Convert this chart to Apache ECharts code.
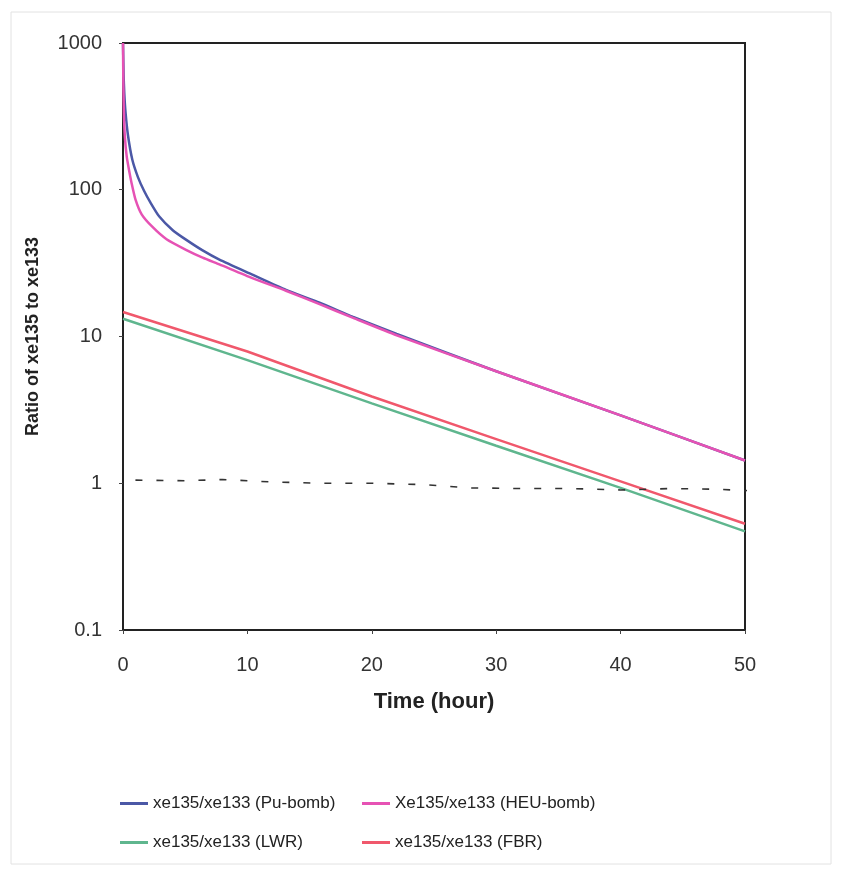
<!DOCTYPE html>
<html>
<head>
<meta charset="utf-8">
<script src="https://cdn.jsdelivr.net/npm/echarts@6/dist/echarts.min.js"></script>
<style>
html,body{margin:0;padding:0;background:#fff;}
#c{width:846px;height:870px;}
</style>
</head>
<body>
<div id="c"></div>
<script>
// Time (hour) and ratio values
var puBomb = [[0,1000],[0.05,600],[0.1,460],[0.2,340],[0.4,235],[0.75,160],[1.2,122],[1.7,98],[2.2,82],[2.9,66],[4,53],[5.06,45.7],[6.4,38.6],[7.75,33.4],[10.4,26.4],[13.1,20.8],[15.8,17.0],[18.5,13.6],[22,10.4],[30,5.8],[40,2.9],[50,1.43]];
var heuBomb = [[0,1000],[0.03,500],[0.07,330],[0.15,230],[0.3,168],[0.48,137],[0.7,110],[1.0,86],[1.5,68],[2.35,56],[3.5,46],[5.06,39],[6.4,34.5],[7.75,31],[10.4,25],[13.1,20.5],[15.8,16.6],[18.5,13.4],[22,10.2],[30,5.8],[40,2.9],[50,1.43]];
var lwr = [[0,13.2],[10,6.9],[20,3.5],[30,1.8],[40,0.93],[50,0.47]];
var fbr = [[0,14.7],[10,7.9],[20,3.9],[30,2.0],[40,1.03],[50,0.53]];
var handLine = [[1,1.05],[5,1.04],[8,1.06],[12,1.02],[16,1.0],[20,1.0],[24,0.98],[28,0.93],[32,0.92],[36,0.92],[40,0.9],[44,0.92],[48,0.91],[50,0.89],[52,0.93]];
var names = ['xe135/xe133 (Pu-bomb)','Xe135/xe133 (HEU-bomb)','xe135/xe133 (LWR)','xe135/xe133 (FBR)'];
var yTicks = [0.1,1,10,100,1000];

var chart = echarts.init(document.getElementById('c'));
var font = 'Liberation Sans, Arial, sans-serif';
function lineSeries(name, data, color, z, smooth){
  return {name:name,type:'line',data:data,showSymbol:false,smooth:smooth,z:z,
    lineStyle:{color:color,width:2.5},itemStyle:{color:color}};
}
chart.setOption({
  animation:false,
  backgroundColor:'#fff',
  textStyle:{fontFamily:font},
  graphic:[{type:'rect',shape:{x:11,y:12,width:820,height:852},style:{fill:'none',stroke:'#e2e2e2',lineWidth:1},silent:true}],
  grid:{left:123,right:101,top:43,bottom:240,show:true,borderColor:'#222',borderWidth:2,backgroundColor:'transparent'},
  legend:[
    {data:[names[0],names[2]],orient:'vertical',left:115,top:790,itemWidth:28,itemHeight:3,itemGap:22,icon:'rect',
     textStyle:{fontSize:17,color:'#222',fontFamily:font}},
    {data:[names[1],names[3]],orient:'vertical',left:357,top:790,itemWidth:28,itemHeight:3,itemGap:22,icon:'rect',
     textStyle:{fontSize:17,color:'#222',fontFamily:font}}
  ],
  xAxis:{type:'value',min:0,max:50,interval:10,
    name:'Time (hour)',nameLocation:'middle',nameGap:61,
    nameTextStyle:{fontSize:22,fontWeight:'bold',color:'#222'},
    axisLine:{show:true,lineStyle:{color:'#222',width:2}},
    axisTick:{show:true,length:4,lineStyle:{color:'#444'}},
    axisLabel:{fontSize:20,color:'#333',margin:25},
    splitLine:{show:false}},
  yAxis:{type:'log',logBase:10,min:0.1,max:1000,
    name:'Ratio of xe135 to xe133',nameLocation:'middle',nameGap:81,
    nameTextStyle:{fontSize:18,fontWeight:'bold',color:'#222'},
    axisLine:{show:true,lineStyle:{color:'#222',width:2}},
    axisTick:{show:true,length:4,lineStyle:{color:'#444'}},
    axisLabel:{fontSize:20,color:'#333',margin:21,formatter:function(v){
      for(var i=0;i<yTicks.length;i++){ if(Math.abs(v-yTicks[i])<yTicks[i]*1e-6) return String(yTicks[i]); }
      return String(v);}},
    splitLine:{show:false},minorTick:{show:false}},
  series:[
    lineSeries(names[0],puBomb,'#4b58a6',3,0.2),
    lineSeries(names[2],lwr,'#5fb68e',3,false),
    lineSeries(names[3],fbr,'#f0586c',4,false),
    lineSeries(names[1],heuBomb,'#e652b4',5,0.2),
    {name:'hand',type:'line',data:handLine,showSymbol:false,clip:false,z:6,
     lineStyle:{color:'#333',width:1.6,type:[7,14]},itemStyle:{color:'#333'}}
  ]
});
</script>
</body>
</html>
